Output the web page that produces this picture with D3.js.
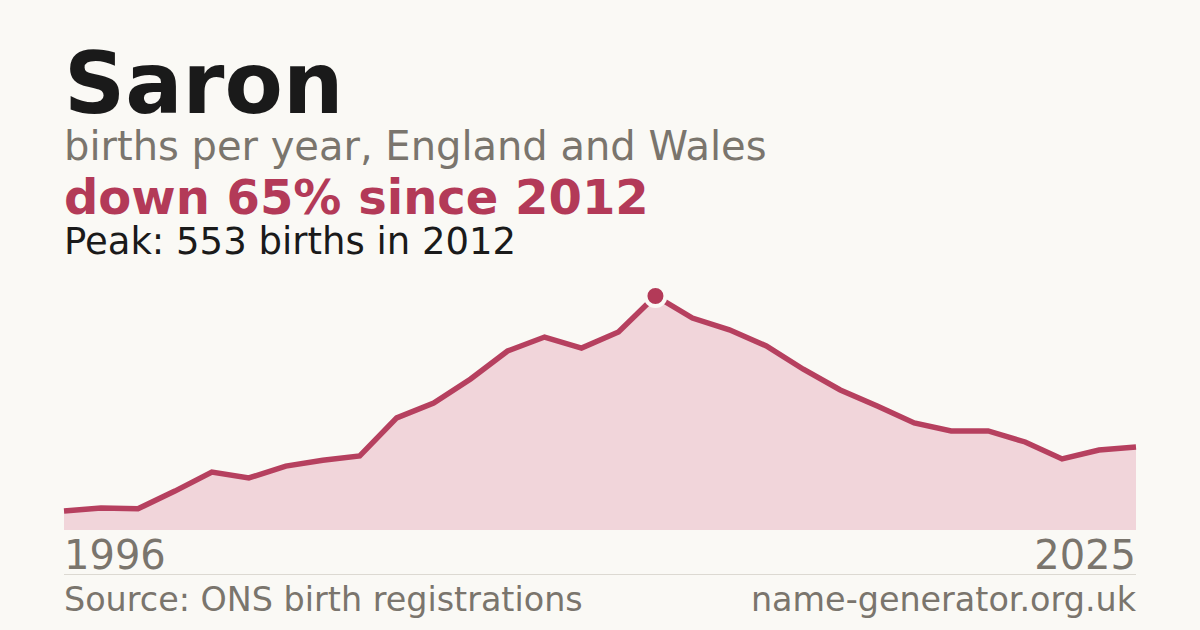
<!DOCTYPE html>
<html lang="en">
<head>
<meta charset="UTF-8">
<title>Saron</title>
<script src="https://cdn.jsdelivr.net/npm/d3@7/dist/d3.min.js"></script>
<style>
  html, body { margin: 0; padding: 0; background: #faf9f5; }
  svg { display: block; font-family: "DejaVu Sans", sans-serif; }
</style>
</head>
<body>
<div id="chart"></div>
<script>
// births per year, 1996-2025
const years = d3.range(1996, 2026);
const births = [45, 52, 50, 92, 137, 123, 151, 165, 175, 265,
                300, 357, 423, 456, 430, 468, 553, 501, 473, 435,
                380, 331, 293, 253, 234, 234, 208, 168, 189, 196];
const peakYear = 2012;

const width = 1200, height = 630;
const margin = { left: 64, right: 64 };
const plotTop = 296, plotBottom = 530;

const svg = d3.select("#chart").append("svg")
    .attr("width", width)
    .attr("height", height);

svg.append("rect").attr("width", width).attr("height", height).attr("fill", "#faf9f5");

const data = years.map((y, i) => ({ year: y, value: births[i] }));

const x = d3.scaleLinear()
    .domain(d3.extent(years))
    .range([margin.left, width - margin.right]);
const y = d3.scaleLinear()
    .domain([0, d3.max(births)])
    .range([plotBottom, plotTop]);

// Header text
svg.append("text").attr("x", 64).attr("y", 113)
    .attr("font-size", 85).attr("font-weight", "bold").attr("fill", "#1a1a1a")
    .text("Saron");
svg.append("text").attr("x", 64).attr("y", 160)
    .attr("font-size", 40).attr("fill", "#7a756d")
    .text("births per year, England and Wales");
svg.append("text").attr("x", 64).attr("y", 214)
    .attr("font-size", 48).attr("font-weight", "bold").attr("fill", "#b33a58")
    .text("down 65% since 2012");
svg.append("text").attr("x", 64).attr("y", 254)
    .attr("font-size", 37).attr("fill", "#1a1a1a")
    .text("Peak: 553 births in 2012");

// Area + line
const area = d3.area()
    .x(d => x(d.year))
    .y0(plotBottom)
    .y1(d => y(d.value));
const line = d3.line()
    .x(d => x(d.year))
    .y(d => y(d.value));

svg.append("path").datum(data)
    .attr("d", area)
    .attr("fill", "#f1d5da");

svg.append("path").datum(data)
    .attr("d", line)
    .attr("fill", "none")
    .attr("stroke", "#b6405f")
    .attr("stroke-width", 5.5)
    .attr("stroke-linejoin", "miter");

// peak marker
const peak = data.find(d => d.year === peakYear);
svg.append("circle")
    .attr("cx", x(peak.year))
    .attr("cy", y(peak.value))
    .attr("r", 10)
    .attr("fill", "#b33a58")
    .attr("stroke", "#faf9f5")
    .attr("stroke-width", 4);

// year labels
svg.append("text").attr("x", 64).attr("y", 569)
    .attr("font-size", 40).attr("fill", "#7a756d")
    .text(years[0]);
svg.append("text").attr("x", width - 64).attr("y", 569)
    .attr("font-size", 40).attr("fill", "#7a756d").attr("text-anchor", "end")
    .text(years[years.length - 1]);

// footer rule + text
svg.append("line")
    .attr("x1", 64).attr("x2", width - 64)
    .attr("y1", 574.5).attr("y2", 574.5)
    .attr("stroke", "#dcd9d2").attr("stroke-width", 1);
svg.append("text").attr("x", 64).attr("y", 611)
    .attr("font-size", 33.4).attr("fill", "#7a756d")
    .text("Source: ONS birth registrations");
svg.append("text").attr("x", width - 64).attr("y", 611)
    .attr("font-size", 33.4).attr("fill", "#7a756d").attr("text-anchor", "end")
    .text("name-generator.org.uk");
</script>
</body>
</html>
